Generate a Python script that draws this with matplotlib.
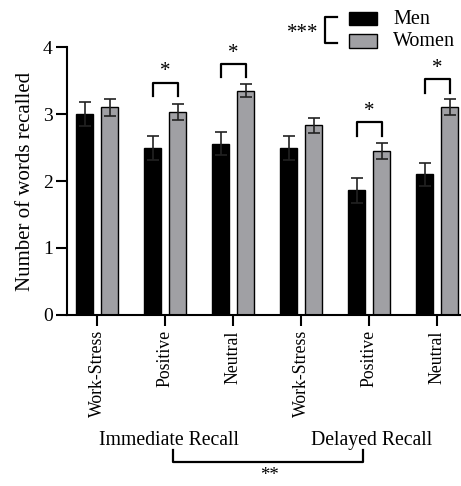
import numpy as np
import matplotlib
matplotlib.use('Agg')
import matplotlib.pyplot as plt
from matplotlib.patches import Rectangle

plt.rcParams['font.family'] = ['Liberation Serif', 'DejaVu Serif']

# Data
conditions = ['Work-Stress', 'Positive', 'Neutral', 'Work-Stress', 'Positive', 'Neutral']
men = [3.00, 2.50, 2.56, 2.50, 1.86, 2.10]
men_err = [0.18, 0.18, 0.17, 0.18, 0.19, 0.17]
women = [3.10, 3.03, 3.35, 2.83, 2.45, 3.11]
women_err = [0.13, 0.12, 0.10, 0.11, 0.12, 0.12]
groups = ['Immediate Recall', 'Delayed Recall']
sig_pairs = [1, 2, 4, 5]          # conditions with * between men/women
sig_heights = [3.47, 3.75, 2.88, 3.52]

gray = '#a0a0a4'
x = np.arange(len(conditions))
w = 0.25
off = 0.185

fig = plt.figure(figsize=(4.61, 4.86), dpi=100)
ax = fig.add_axes([0.1447, 0.352, 0.8553, 0.551])

ax.bar(x - off, men, w, color='black', edgecolor='black', lw=1.0)
ax.bar(x + off, women, w, color=gray, edgecolor='black', lw=1.0)
ax.errorbar(x - off, men, yerr=men_err, fmt='none', ecolor='#222222',
            elinewidth=1.2, capsize=4.3, capthick=1.2)
ax.errorbar(x + off, women, yerr=women_err, fmt='none', ecolor='#222222',
            elinewidth=1.2, capsize=4.3, capthick=1.2)

# significance brackets
for i, h in zip(sig_pairs, sig_heights):
    ax.plot([i - off, i - off, i + off, i + off], [h - 0.2, h, h, h - 0.2],
            color='black', lw=1.6, clip_on=False)
    ax.text(i, h + 0.16, '*', ha='center', va='center', fontsize=15)

ax.set_xlim(-0.45, 5.35)
ax.set_ylim(0, 4)
ax.set_yticks([0, 1, 2, 3, 4])
ax.set_xticks(x)
ax.set_xticklabels(conditions, rotation=90, fontsize=12.8)
ax.tick_params(axis='y', labelsize=14, length=8, width=1.5, pad=2)
ax.tick_params(axis='x', length=8, width=1.5, pad=3)
ax.set_ylabel('Number of words recalled', fontsize=15, labelpad=6)
for s in ['top', 'right']:
    ax.spines[s].set_visible(False)
for s in ['left', 'bottom']:
    ax.spines[s].set_linewidth(1.5)

# group labels and bracket below
tr = ax.get_xaxis_transform()
ax.text(1.06, -0.468, groups[0], transform=tr, ha='center', va='center', fontsize=14.2)
ax.text(4.03, -0.468, groups[1], transform=tr, ha='center', va='center', fontsize=14.2)
ax.plot([1.12, 1.12, 3.91, 3.91], [-0.504, -0.549, -0.549, -0.504],
        transform=tr, color='black', lw=1.6, clip_on=False)
ax.text(2.53, -0.567, '**', transform=tr, ha='center', va='top', fontsize=13.5)

# legend drawn by hand
W, H = 461.0, 486.0
def fx(px):
    return px / W
def fy(py):
    return 1 - py / H
fig.patches.append(Rectangle((fx(349), fy(25)), 28 / W, 13 / H, transform=fig.transFigure,
                             facecolor='black', edgecolor='black', lw=1.0))
fig.patches.append(Rectangle((fx(349), fy(48)), 28 / W, 14 / H, transform=fig.transFigure,
                             facecolor=gray, edgecolor='black', lw=1.0))
fig.text(fx(393), fy(20), 'Men', ha='left', va='center', fontsize=14.5)
fig.text(fx(393), fy(42), 'Women', ha='left', va='center', fontsize=14.5)
fig.lines.append(plt.Line2D([fx(337), fx(325), fx(325), fx(337)],
                            [fy(17), fy(17), fy(43), fy(43)],
                            transform=fig.transFigure, color='black', lw=1.6))
fig.text(fx(303), fy(33), '***', ha='center', va='center', fontsize=15)

fig.savefig('out.png', dpi=100)
